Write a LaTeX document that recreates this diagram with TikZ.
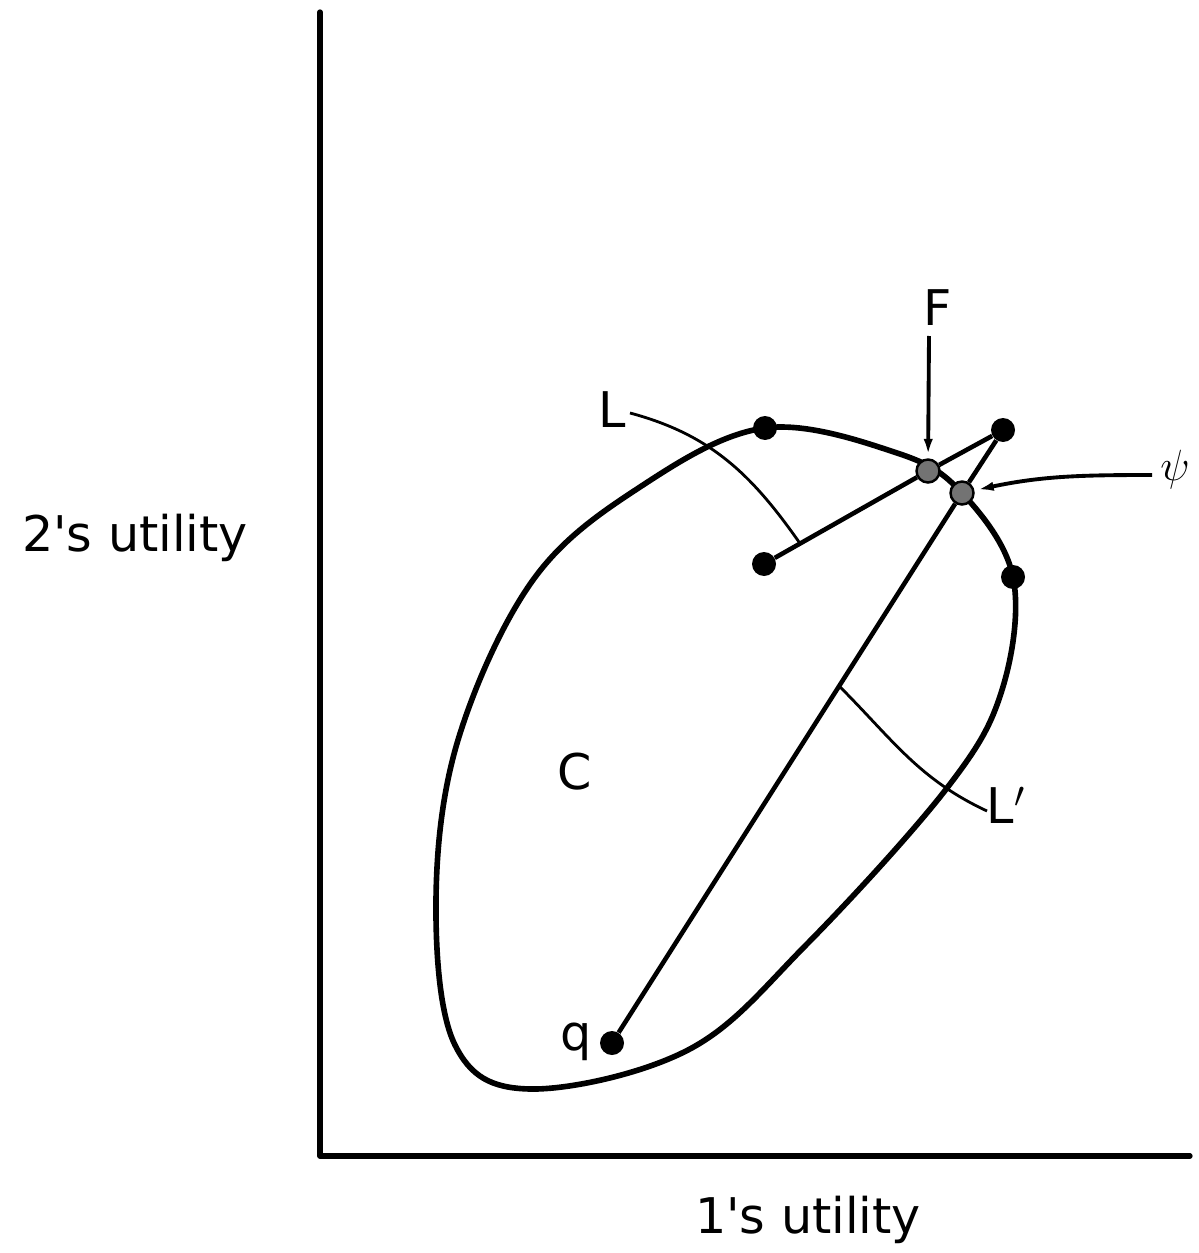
\documentclass[tikz,border=0pt]{standalone}
\usepackage{fontspec}
\setmainfont{DejaVu Sans}
\usetikzlibrary{arrows.meta,calc}

\begin{document}
\begin{tikzpicture}[
            x=0.02cm, y=-0.02cm,
            >={Latex[length=11pt,width=5pt]},
            end_pt/.style={circle, fill=black, inner sep=0pt, minimum size=0.48cm},
            sol_pt/.style={circle, draw=black, line width=1.4pt, fill=black!55, inner sep=0pt, minimum size=0.46cm},
            axis_line/.style={line width=3pt, line cap=round, line join=round},
            boundary/.style={line width=3.2pt},
            segment/.style={line width=2.6pt},
            leader/.style={line width=1.6pt},
            pointer/.style={->, line width=2.2pt},
            label_node/.style={font=\fontsize{28}{30}\selectfont, inner sep=0pt}
        ]

        \useasboundingbox (0,0) rectangle (1198,1253);

        % Axes
        \coordinate (O) at (320,1156);
        \coordinate (Ytop) at (320,12);
        \coordinate (Xend) at (1190,1156);
        \draw[axis_line] (Ytop) -- (O) -- (Xend);

        \node[label_node] (ylab) at (135,538) {2\textquotesingle s utility};
        \node[label_node] (xlab) at (808,1220) {1\textquotesingle s utility};

        % Utility possibility set C
        \draw[boundary] plot[smooth cycle, tension=0.6] coordinates {
            (765,428) (897,453) (962,493) (1013,577) (1002,690) (947,788)
            (806,945) (688,1050) (530,1089) (455,1045) (436,900) (458,740)
            (533,580) (640,487)};
        \node[label_node] (Clab) at (575,772) {C};

        % Points
        \node[end_pt] (top) at (765,428) {};
        \node[end_pt] (inner) at (764,564) {};
        \node[end_pt] (corner) at (1003,430) {};
        \node[end_pt] (right) at (1013,577) {};
        \node[end_pt] (q) at (612,1043) {};
        \node[sol_pt] (F) at (928,471) {};
        \node[sol_pt] (psi) at (962,493) {};

        % Segments through the solutions
        \draw[segment] (inner) -- (F) -- (corner);
        \draw[segment] (corner) -- (psi);
        \draw[segment] (q) -- (psi);

        % Labels and leaders
        \node[label_node] (qlab) at (576,1042) {q};
        \node[label_node] (Llab) at (612,410) {L};
        \node[label_node] (Lplab) at (1006,805) {L$'$};
        \node[label_node] (Flab) at (938,308) {F};
        \node[label_node, font=\fontsize{38}{40}\selectfont] (psilab) at (1175,470) {$\psi$};

        \coordinate (Lfoot) at ($(inner)!0.22!(F)$);
        \coordinate (Lpfoot) at ($(q)!0.649!(psi)$);
        \draw[leader] (630,413) to[out=-15, in=125] (Lfoot);
        \draw[leader] (Lpfoot) to[out=-45, in=155] (987,811);

        \draw[pointer] (929,336) -- (F);
        \draw[pointer] (1152,475) to[out=180, in=12] (psi);

    \end{tikzpicture}
\end{document}
